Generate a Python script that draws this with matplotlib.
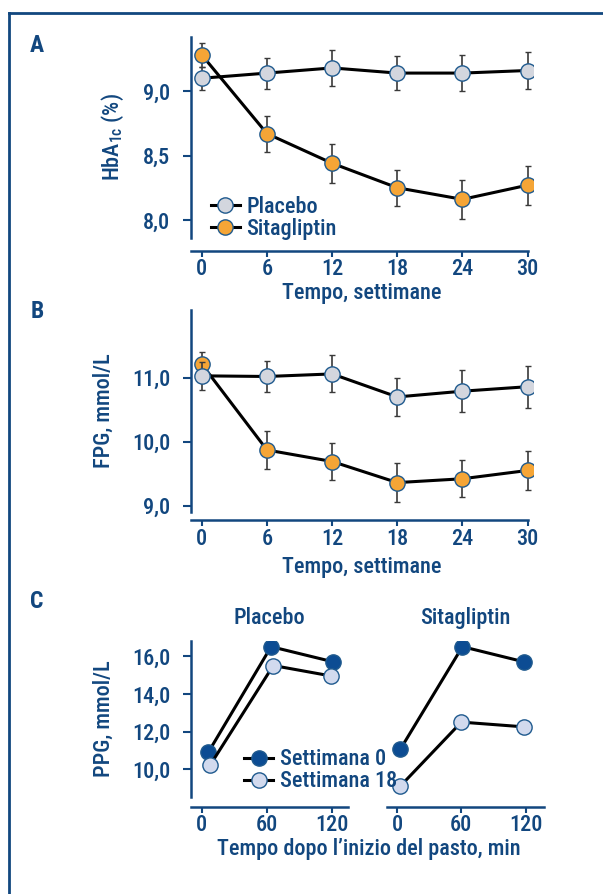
import matplotlib.pyplot as plt
from matplotlib.lines import Line2D
from matplotlib import font_manager

# prefer a narrow font if one is installed, otherwise Liberation Sans
names = {f.name for f in font_manager.fontManager.ttflist}
prefs = ['Roboto Condensed', 'Liberation Sans Narrow', 'Noto Sans Condensed',
         'Open Sans Condensed', 'Fira Sans Condensed', 'PT Sans Narrow',
         'Archivo Narrow', 'IBM Plex Sans Condensed']
found = [p for p in prefs if p in names]
narrow = sorted(n for n in names if 'Narrow' in n or 'Condensed' in n)
FONT = (found or narrow or ['Liberation Sans'])[0]
plt.rcParams['font.family'] = [FONT, 'DejaVu Sans']
plt.rcParams['font.weight'] = 'medium'
plt.rcParams['axes.labelweight'] = 'medium'
plt.rcParams['axes.titleweight'] = 'medium'
plt.rcParams['mathtext.default'] = 'regular'

NAVY = '#12477f'
ORANGE = '#f5a536'
GREY = '#d3d6de'
DARK = '#0c4c93'
LIGHT = '#d2daee'
FS = 16

# --- Panel A: HbA1c (%)
weeks = [0, 6, 12, 18, 24, 30]
hba_placebo = [9.10, 9.14, 9.18, 9.14, 9.14, 9.16]
hba_placebo_err = [0.09, 0.12, 0.14, 0.13, 0.14, 0.14]
hba_sita = [9.28, 8.67, 8.44, 8.25, 8.16, 8.27]
hba_sita_err = [0.09, 0.14, 0.15, 0.14, 0.15, 0.15]

# --- Panel B: FPG, mmol/L
fpg_placebo = [11.03, 11.02, 11.06, 10.70, 10.79, 10.86]
fpg_placebo_err = [0.22, 0.25, 0.29, 0.30, 0.33, 0.33]
fpg_sita = [11.21, 9.87, 9.69, 9.36, 9.42, 9.55]
fpg_sita_err = [0.20, 0.29, 0.29, 0.30, 0.29, 0.31]

# --- Panel C: PPG, mmol/L
min_w0_pl = [6, 64, 121]
min_w18_pl = [8, 66, 119]
min_w0_si = [3, 61, 118]
min_w18_si = [3, 60, 118]
ppg_pl_w0 = [10.9, 16.5, 15.7]
ppg_pl_w18 = [10.25, 15.5, 14.95]
ppg_si_w0 = [11.05, 16.5, 15.7]
ppg_si_w18 = [9.1, 12.5, 12.25]
ppg_err = [0.3, 0.3, 0.3]

W, H = 603, 894
fig = plt.figure(figsize=(W / 100, H / 100), dpi=100)


def box(x0, y0, x1, y1):
    # pixel box -> figure fraction
    return [x0 / W, 1 - y1 / H, (x1 - x0) / W, (y1 - y0) / H]


# outer frame (top + left lines)
fig.add_artist(Line2D([9 / W, 1], [1 - 13 / H, 1 - 13 / H], color=NAVY, lw=2))
fig.add_artist(Line2D([9 / W, 9 / W], [1 - 13 / H, 0], color=NAVY, lw=2))


def style(ax, xbound, offset, yaxis=True):
    ax.patch.set_visible(False)
    for s in ['top', 'right']:
        ax.spines[s].set_visible(False)
    ax.spines['bottom'].set_position(('outward', offset))
    ax.spines['bottom'].set_bounds(*xbound)
    ax.spines['bottom'].set_color(NAVY)
    ax.spines['bottom'].set_linewidth(1.8)
    ax.spines['left'].set_color(NAVY)
    ax.spines['left'].set_linewidth(1.8)
    if not yaxis:
        ax.spines['left'].set_visible(False)
        ax.tick_params(axis='y', left=False, labelleft=False)
    ax.tick_params(colors=NAVY, labelsize=FS, length=6, width=1.5)
    ax.tick_params(axis='y', pad=9)
    ax.tick_params(axis='x', length=4, pad=1.5)


def series(ax, x, y, e, fc, label=None, z=3):
    ax.errorbar(x, y, yerr=e, fmt='-', color='black', lw=2.2, ecolor='#3a3a3a',
                elinewidth=1.2, capsize=2, capthick=1.2, marker='o', ms=11,
                mfc=fc, mec='#1f5a8e', mew=1.0, label=label, zorder=z)


def fmt(v):
    return f'{v:.1f}'.replace('.', ',')


LEG = dict(frameon=False, fontsize=FS, labelcolor=NAVY, handlelength=1.3,
           handletextpad=0.3, labelspacing=0.0, borderaxespad=0, borderpad=0)

# Panel A
axA = fig.add_axes(box(191, 37, 533, 238))
series(axA, weeks, hba_placebo, hba_placebo_err, GREY, 'Placebo')
series(axA, weeks, hba_sita, hba_sita_err, ORANGE, 'Sitagliptin', z=4)
axA.set_xlim(-1, 30.5)
axA.set_ylim(7.86, 9.42)
axA.set_xticks(weeks)
axA.set_yticks([8.0, 8.5, 9.0])
axA.set_yticklabels([fmt(v) for v in [8.0, 8.5, 9.0]])
style(axA, (-1, 30), 9)
axA.set_xlabel('Tempo, settimane', color=NAVY, fontsize=FS, labelpad=1)
axA.set_ylabel('HbA$_{1c}$ (%)', color=NAVY, fontsize=FS, labelpad=12)
handles, labels = axA.get_legend_handles_labels()
axA.legend([h[0] for h in handles], labels, loc='lower left',
           bbox_to_anchor=(0.058, -0.01), **LEG)

# Panel B
axB = fig.add_axes(box(191, 310, 533, 512))
series(axB, weeks, fpg_sita, fpg_sita_err, ORANGE)
series(axB, weeks, fpg_placebo, fpg_placebo_err, GREY, z=4)
axB.set_xlim(-1, 30.5)
axB.set_ylim(8.9, 12.06)
axB.set_xticks(weeks)
axB.set_yticks([9.0, 10.0, 11.0])
axB.set_yticklabels([fmt(v) for v in [9.0, 10.0, 11.0]])
style(axB, (-1, 30), 6)
axB.set_xlabel('Tempo, settimane', color=NAVY, fontsize=FS, labelpad=4)
axB.set_ylabel('FPG, mmol/L', color=NAVY, fontsize=FS, labelpad=12)

# Panel C
axC1 = fig.add_axes(box(191, 641, 348, 797))
axC2 = fig.add_axes(box(387, 641, 544, 797), sharey=axC1)
series(axC1, min_w0_pl, ppg_pl_w0, ppg_err, DARK, 'Settimana 0')
series(axC1, min_w18_pl, ppg_pl_w18, ppg_err, LIGHT, 'Settimana 18')
series(axC2, min_w0_si, ppg_si_w0, ppg_err, DARK)
series(axC2, min_w18_si, ppg_si_w18, ppg_err, LIGHT)
axC1.set_xlim(-10, 135)
axC2.set_xlim(-9.3, 137)
axC1.set_ylim(8.53, 16.8)
for ax in (axC1, axC2):
    ax.set_xticks([0, 60, 120])
axC1.set_yticks([10.0, 12.0, 14.0, 16.0])
axC1.set_yticklabels([fmt(v) for v in [10.0, 12.0, 14.0, 16.0]])
style(axC1, (-10, 135), 7)
style(axC2, (-9.3, 137), 7, yaxis=False)
axC1.set_ylabel('PPG, mmol/L', color=NAVY, fontsize=FS, labelpad=12)
axC1.set_title('Placebo', color=NAVY, fontsize=FS, pad=12)
axC2.set_title('Sitagliptin', color=NAVY, fontsize=FS, pad=12)
fig.text(369 / W, 1 - 849 / H, 'Tempo dopo l\u2019inizio del pasto, min', color=NAVY,
         fontsize=FS, ha='center', va='center')
handles, labels = axC1.get_legend_handles_labels()
# legend drawn by the right axes so it stays on top of both panels
leg = axC2.legend([h[0] for h in handles], labels, loc='lower left',
                  bbox_to_anchor=(0.34, 0.03), bbox_transform=axC1.transAxes, **LEG)
leg.set_zorder(10)

# panel letters
for txt, y in [('A', 46), ('B', 312), ('C', 602)]:
    fig.text(37 / W, 1 - y / H, txt, color=NAVY, fontsize=17, fontweight='heavy',
             ha='center', va='center')

fig.savefig('out.png', dpi=100)
